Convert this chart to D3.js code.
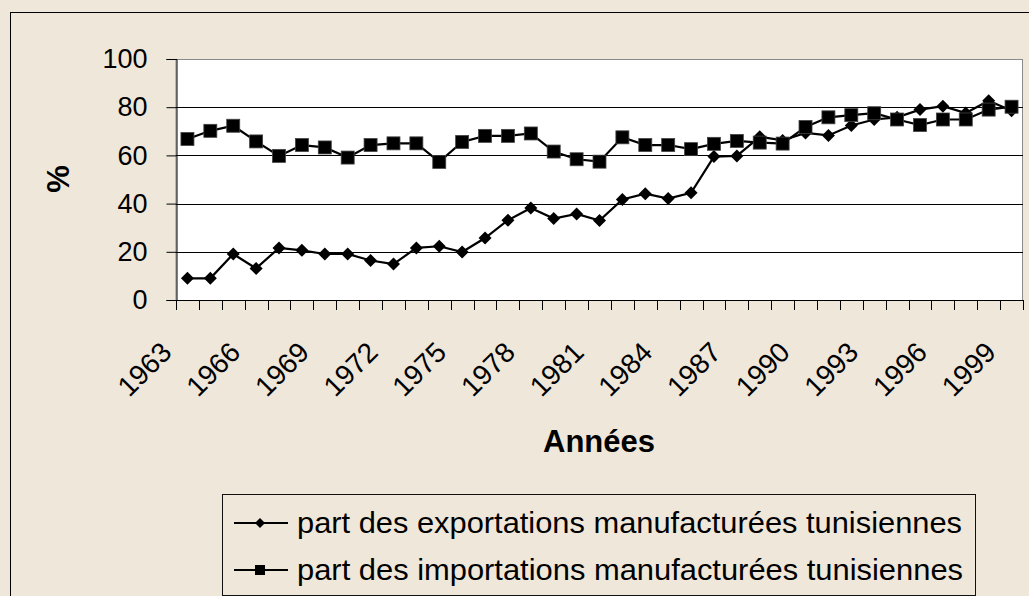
<!DOCTYPE html>
<meta charset="utf-8" />
<script src="https://d3js.org/d3.v7.min.js"></script>
<style>
	body { margin: 0; background: #efe7da; }
	text { font-family: 'Liberation Sans', Arial, sans-serif; fill: #000; }
</style>
<div id="my_dataviz"></div>

<script>
	// data
	var years = d3.range(1963, 2000);
	var exportsShare = [9.0, 9.0, 19.1, 13.1, 21.6, 20.6, 19.1, 19.1, 16.4, 14.9, 21.6, 22.3, 19.9, 25.7, 33.1, 38.2, 33.8, 35.7, 33.0, 41.7, 44.1, 42.1, 44.5, 59.5, 59.8, 67.7, 66.2, 69.3, 68.3, 72.4, 74.9, 75.8, 79.0, 80.4, 77.6, 82.7, 78.5];
	var importsShare = [66.8, 70.2, 72.3, 65.8, 59.8, 64.3, 63.3, 59.1, 64.3, 65.0, 65.0, 57.3, 65.6, 68.1, 68.1, 69.1, 61.6, 58.4, 57.4, 67.5, 64.3, 64.3, 62.6, 64.8, 66.0, 65.3, 64.9, 71.8, 75.8, 76.7, 77.5, 74.9, 72.6, 74.9, 74.9, 79.0, 80.2];
	var yTicks = [0, 20, 40, 60, 80, 100];
	var labelYears = [1963, 1966, 1969, 1972, 1975, 1978, 1981, 1984, 1987, 1990, 1993, 1996, 1999];
	var seriesNames = ['part des exportations manufacturées tunisiennes', 'part des importations manufacturées tunisiennes'];

	var width = 1029, height = 596;
	var plotLeft = 176, plotRight = 1023, plotTop = 59, plotBottom = 300;

	var svg = d3.select('#my_dataviz')
		.append('svg')
		.attr('width', width)
		.attr('height', height)
		.style('display', 'block');

	// chart frame
	svg.append('rect')
		.attr('x', 10.5).attr('y', 12.5)
		.attr('width', 1040).attr('height', 600)
		.attr('fill', '#efe7da')
		.attr('stroke', '#000');

	var x = d3.scaleBand().domain(years).range([plotLeft, plotRight]).padding(0);
	var y = d3.scaleLinear().domain([0, 100]).range([plotBottom, plotTop]);
	var cx = function (d) { return x(d) + x.bandwidth() / 2; };

	// plot area
	svg.append('rect')
		.attr('x', plotLeft).attr('y', plotTop + 0.5)
		.attr('width', plotRight - plotLeft - 0.5).attr('height', plotBottom - plotTop)
		.attr('fill', '#fff')
		.attr('stroke', '#8a8a8a');

	// gridlines
	svg.append('g')
		.selectAll('line')
		.data(yTicks.filter(function (d) { return d > 0 && d < 100; }))
		.enter()
		.append('line')
		.attr('x1', plotLeft).attr('x2', plotRight)
		.attr('y1', function (d) { return Math.round(y(d)) + 0.5; })
		.attr('y2', function (d) { return Math.round(y(d)) + 0.5; })
		.attr('stroke', '#000');

	// Y axis
	var yAxis = svg.append('g').attr('transform', 'translate(' + (plotLeft + 0.5) + ',0)')
		.call(d3.axisLeft(y).tickValues(yTicks).tickSize(10).tickPadding(19));
	yAxis.select('.domain').attr('stroke', '#000');
	yAxis.selectAll('.tick line').attr('stroke', '#000');
	yAxis.selectAll('text')
		.style('font-family', "'Liberation Sans', Arial, sans-serif")
		.style('font-size', '27px');

	// X axis: ticks on category boundaries
	var xg = svg.append('g');
	xg.append('line')
		.attr('x1', plotLeft).attr('x2', plotRight)
		.attr('y1', plotBottom + 0.5).attr('y2', plotBottom + 0.5)
		.attr('stroke', '#000');
	xg.selectAll('line.tick')
		.data(years.concat([2000]))
		.enter()
		.append('line')
		.attr('class', 'tick')
		.attr('x1', function (d) { return Math.round(d === 2000 ? plotRight : x(d)) + 0.5; })
		.attr('x2', function (d) { return Math.round(d === 2000 ? plotRight : x(d)) + 0.5; })
		.attr('y1', plotBottom).attr('y2', plotBottom + 10)
		.attr('stroke', '#000');
	xg.selectAll('text')
		.data(labelYears)
		.enter()
		.append('text')
		.attr('text-anchor', 'end')
		.attr('dy', '0.35em')
		.attr('transform', function (d) { return 'translate(' + (cx(d) - 21) + ',347)rotate(-45)'; })
		.style('font-size', '28px')
		.text(function (d) { return d; });

	// axis titles
	svg.append('text')
		.attr('x', 599).attr('y', 452)
		.attr('text-anchor', 'middle')
		.style('font-weight', 'bold')
		.style('font-size', '31px')
		.text('Années');
	svg.append('text')
		.attr('text-anchor', 'middle')
		.attr('transform', 'translate(69,179)rotate(-90)')
		.style('font-weight', 'bold')
		.style('font-size', '31px')
		.text('%');

	// lines and markers
	var diamond = function (r) { return 'M0,' + (-r) + 'L' + r + ',0L0,' + r + 'L' + (-r) + ',0Z'; };
	var line = d3.line()
		.x(function (d, i) { return cx(years[i]); })
		.y(function (d) { return y(d); });

	[exportsShare, importsShare].forEach(function (vals) {
		svg.append('path')
			.datum(vals)
			.attr('d', line)
			.attr('fill', 'none')
			.attr('stroke', '#000')
			.attr('stroke-width', 2.2);
	});

	svg.append('g').selectAll('path')
		.data(exportsShare)
		.enter()
		.append('path')
		.attr('transform', function (d, i) { return 'translate(' + cx(years[i]) + ',' + y(d) + ')'; })
		.attr('d', diamond(6.5))
		.attr('fill', '#000');

	svg.append('g').selectAll('rect')
		.data(importsShare)
		.enter()
		.append('rect')
		.attr('x', function (d, i) { return cx(years[i]) - 6.5; })
		.attr('y', function (d) { return y(d) - 6.5; })
		.attr('width', 13).attr('height', 13)
		.attr('fill', '#000')
		.attr('stroke', '#444')
		.attr('stroke-width', 0.8);

	// legend
	var legend = svg.append('g');
	legend.append('rect')
		.attr('x', 222.5).attr('y', 494.5)
		.attr('width', 753).attr('height', 101)
		.attr('fill', '#efe7da')
		.attr('stroke', '#111');
	var rows = [523, 570];
	seriesNames.forEach(function (name, i) {
		var ly = rows[i];
		legend.append('line')
			.attr('x1', 234).attr('x2', 288)
			.attr('y1', ly).attr('y2', ly)
			.attr('stroke', '#000').attr('stroke-width', 2);
		if (i === 0) {
			legend.append('path')
				.attr('transform', 'translate(260,' + ly + ')')
				.attr('d', diamond(5))
				.attr('fill', '#000');
		} else {
			legend.append('rect')
				.attr('x', 255).attr('y', ly - 5)
				.attr('width', 10).attr('height', 10)
				.attr('fill', '#000');
		}
		legend.append('text')
			.attr('x', 297).attr('y', ly + 10)
			.attr('textLength', i === 0 ? 665 : 666)
			.attr('lengthAdjust', 'spacingAndGlyphs')
			.style('font-family', "'Liberation Sans Narrow', 'Liberation Sans', Arial, sans-serif")
			.style('font-size', '30px')
			.text(name);
	});
</script>
